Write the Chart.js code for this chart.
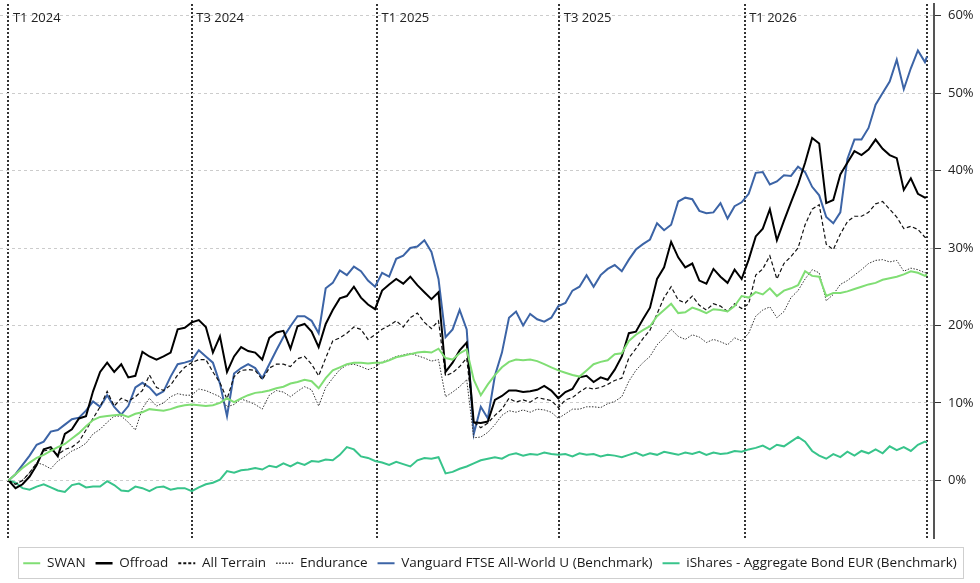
<!DOCTYPE html>
<html><head><meta charset="utf-8">
<script src="https://cdn.jsdelivr.net/npm/chart.js@4/dist/chart.umd.min.js"></script>
<style>html,body{margin:0;padding:0;background:#fff;}canvas{display:block;}</style>
</head><body>
<canvas id="c" width="980" height="583"></canvas>
<script>
// x positions: days since 1 Jan 2024
const days = [
0,7,14,21,28,35,42,49,56,63,
70,77,84,91,98,105,112,119,126,133,
140,147,154,161,168,175,182,189,196,203,
210,217,224,231,238,245,252,259,266,273,
280,287,294,301,308,315,322,329,336,343,
350,357,364,371,378,385,392,399,406,413,
420,427,434,441,448,455,462,469,476,483,
490,497,504,511,518,525,532,539,546,553,
560,567,574,581,588,595,602,609,616,623,
630,637,644,651,658,665,672,679,686,693,
700,707,714,721,728,735,742,749,756,763,
770,777,784,791,798,805,812,819,826,833,
840,847,854,861,868,875,882,889,896,903,
910,912];

const periodDays = [0,182,366,547,731,912];
const periodLabels = ['T1 2024','T3 2024','T1 2025','T3 2025','T1 2026',''];
const yTickValues = [0,10,20,30,40,50,60];

const seriesNames = ['SWAN','Offroad','All Terrain','Endurance','Vanguard FTSE All-World U (Benchmark)','iShares - Aggregate Bond EUR (Benchmark)'];

const swan = [
0,0.8,1.6,2.3,2.9,3.3,3.8,4.3,4.7,5.4,
6.1,7.0,7.8,8.2,8.3,8.4,8.5,8.2,8.6,8.8,
9.2,9.1,9.0,9.2,9.5,9.7,9.8,9.7,9.6,9.7,
10.0,10.6,10.1,10.6,11.0,11.3,11.4,11.6,11.9,12.1,
12.5,12.7,13.0,12.8,11.9,13.2,14.2,14.6,15.0,15.2,
15.2,15.1,15.2,15.2,15.5,15.9,16.1,16.3,16.5,16.6,
16.5,17.0,15.8,15.6,16.4,16.9,13.0,11.0,12.4,13.6,
14.6,15.3,15.6,15.5,15.6,15.4,15.0,14.6,14.2,13.9,
13.6,13.4,14.2,15.0,15.3,15.5,16.3,16.4,18.0,18.8,
19.4,19.9,21.2,22.0,22.8,21.6,21.7,22.3,22.0,21.6,
22.1,22.0,21.8,22.5,23.8,23.6,24.3,24.0,24.8,23.8,
24.5,24.8,25.2,27.0,26.4,26.3,23.8,24.2,24.2,24.4,
24.7,25.0,25.3,25.5,25.9,26.1,26.3,26.6,27.0,26.8,
26.4,26.6];

const offroad = [
0,-1.0,-0.5,0.5,2.0,4.0,4.3,3.1,6.0,6.6,
8.0,8.3,11.5,14.0,15.2,14.0,15.0,13.3,13.5,16.6,
16.0,15.6,16.0,16.5,19.5,19.7,20.4,20.7,19.8,16.5,
18.6,14.0,16.0,17.2,16.7,16.5,15.6,18.4,19.1,19.3,
17.0,19.9,20.2,19.2,17.2,20.2,22.0,23.5,23.8,25.0,
23.6,22.7,22.1,24.5,25.3,26.0,25.4,26.3,25.2,24.3,
23.4,24.3,14.0,15.2,16.8,17.8,7.5,7.4,7.6,10.4,
10.9,11.6,11.6,11.4,11.5,11.7,12.2,11.6,10.6,11.4,
11.8,13.3,13.5,12.7,13.3,13.0,14.3,16.0,19.0,19.2,
20.8,22.3,26.0,27.5,30.8,28.8,27.5,28.0,25.8,25.4,
27.3,26.3,25.5,27.2,26.0,28.5,31.5,32.5,35.0,31.0,
33.5,35.9,38.2,41.0,44.2,43.5,35.8,36.2,39.5,41.0,
42.5,42.0,42.7,44.0,42.8,42.0,41.6,37.5,39.0,37.0,
36.5,36.6];

const allTerrain = [
0,-0.5,0.0,1.0,2.2,3.8,4.0,3.3,4.0,4.3,
5.0,6.5,8.0,9.5,11.5,9.6,10.6,10.2,10.8,11.6,
13.6,12.0,11.6,12.3,13.6,14.6,15.2,15.6,15.6,14.0,
12.6,10.5,13.4,14.2,14.3,14.2,13.0,14.5,15.0,15.0,
14.7,15.7,16.0,15.0,13.5,15.8,18.0,18.4,19.0,19.8,
19.5,18.2,18.8,19.5,20.0,20.6,19.8,21.0,21.6,20.4,
19.6,20.6,13.5,13.9,14.7,15.8,7.5,6.8,7.4,8.4,
9.2,10.6,10.1,10.4,10.1,10.7,10.5,10.3,9.4,10.4,
10.7,11.4,12.0,11.8,12.0,12.4,12.9,13.2,15.8,17.0,
18.3,19.4,21.5,23.6,25.0,23.3,22.9,23.8,22.6,22.0,
22.8,22.5,21.8,22.8,22.2,22.8,26.5,27.3,29.0,26.0,
28.0,28.9,30.0,33.0,35.0,35.6,30.5,29.8,31.8,33.4,
34.1,34.1,34.6,35.7,36.0,35.0,34.0,32.5,32.8,32.4,
31.4,31.3];

const endurance = [
0,-0.5,0.0,1.0,2.3,2.0,1.5,2.5,3.1,3.8,
4.2,4.8,6.0,6.6,7.5,8.3,8.3,7.5,6.5,9.3,
10.6,9.6,10.0,10.8,11.2,11.0,11.0,11.8,11.6,11.2,
10.8,9.5,9.8,10.5,10.2,9.8,9.2,11.0,11.6,11.4,
10.8,11.5,12.1,11.7,9.6,12.0,13.2,14.3,14.9,15.0,
14.7,14.3,14.6,15.3,15.6,16.0,16.2,16.4,16.1,15.8,
15.4,15.6,10.8,11.4,12.1,13.0,5.5,5.6,6.2,7.2,
8.4,9.0,8.8,9.1,8.8,9.2,9.1,8.8,8.0,8.6,
9.2,9.2,9.5,9.5,9.4,9.9,10.2,10.8,12.8,14.2,
15.2,16.0,17.5,18.4,19.5,18.6,18.2,18.8,18.5,17.8,
18.2,17.9,17.5,18.4,18.0,19.0,21.2,22.0,22.4,21.0,
21.8,23.6,24.5,26.0,27.2,26.8,23.2,24.0,25.3,25.8,
26.5,27.2,28.0,28.4,28.5,28.2,28.4,27.0,27.4,27.2,
26.8,26.8];

const vanguard = [
0,0.8,2.0,3.2,4.6,5.0,6.3,6.5,7.2,7.9,
8.1,9.0,10.2,9.5,11.0,9.5,8.5,9.6,12.0,12.6,
12.0,11.0,11.5,13.4,15.0,15.2,15.5,16.8,16.0,15.2,
12.5,8.3,13.8,14.5,15.0,14.5,13.2,15.0,16.8,18.5,
19.9,21.2,21.2,20.6,19.0,24.8,25.5,27.1,26.5,27.6,
27.0,25.8,25.0,26.8,26.3,28.6,29.0,30.0,30.2,31.0,
29.5,26.0,18.5,19.5,22.0,19.5,6.0,9.5,8.0,13.5,
16.5,21.0,21.8,20.0,21.5,20.8,20.5,21.0,22.5,22.9,
24.5,25.0,26.5,25.0,26.5,27.3,27.8,27.0,28.5,29.8,
30.5,31.1,33.2,32.3,33.0,36.0,36.5,36.3,34.8,34.5,
34.6,35.8,33.8,35.4,35.9,37.0,39.7,39.8,38.2,38.6,
39.4,39.3,40.5,39.8,37.9,36.8,34.0,33.2,34.6,41.5,
44.0,44.0,45.5,48.5,50.0,51.5,54.3,50.5,53.2,55.5,
54.0,54.7];

const ishares = [
0,-0.3,-1.0,-1.2,-0.8,-0.5,-0.9,-1.3,-1.5,-0.6,
-0.4,-0.9,-0.8,-0.8,-0.1,-0.6,-1.3,-1.4,-0.8,-1.0,
-1.4,-0.9,-0.8,-1.2,-1.0,-1.0,-1.4,-0.9,-0.5,-0.3,
0.1,1.2,1.0,1.3,1.4,1.6,1.4,1.9,1.7,2.2,
1.8,2.3,2.0,2.5,2.4,2.7,2.6,3.3,4.3,4.0,
3.1,2.9,2.5,2.3,2.0,2.4,2.1,1.8,2.6,2.9,
2.8,3.0,0.9,1.1,1.5,1.8,2.2,2.6,2.8,3.0,
2.8,3.3,3.5,3.2,3.4,3.3,3.6,3.4,3.3,3.4,
3.1,3.5,3.3,3.4,3.1,3.3,3.2,3.0,3.3,3.6,
3.2,3.5,3.3,3.7,3.5,3.3,3.6,3.4,3.7,3.3,
3.6,3.4,3.5,3.8,3.7,4.0,4.2,4.5,4.0,4.6,
4.4,5.0,5.6,5.0,3.8,3.2,2.8,3.4,3.0,3.7,
3.2,3.8,3.5,4.0,3.5,4.4,3.9,4.3,3.8,4.6,
5.0,4.9];

const FONT = "'Open Sans', 'Noto Sans', sans-serif";
Chart.defaults.font.family = FONT;
Chart.defaults.font.size = 13;
Chart.defaults.color = '#222';

const pts = arr => arr.map((v, i) => ({x: days[i], y: v}));

const periodLabelPlugin = {
  id: 'periodLabels',
  afterDraw(chart) {
    const {ctx, chartArea, scales} = chart;
    ctx.save();
    ctx.font = "13px " + FONT;
    ctx.fillStyle = '#222';
    ctx.textBaseline = 'alphabetic';
    ctx.textAlign = 'left';
    periodDays.forEach((d, i) => {
      if (!periodLabels[i]) return;
      ctx.fillText(periodLabels[i], scales.x.getPixelForValue(d) + 4.5, chartArea.top + 18);
    });
    ctx.restore();
  }
};

const legendFramePlugin = {
  id: 'legendFrame',
  afterDraw(chart) {
    const hb = chart.legend && chart.legend.legendHitBoxes;
    if (!hb || !hb.length) return;
    let l = Infinity, r = -Infinity, t = Infinity, b = -Infinity;
    hb.forEach(h => { l = Math.min(l, h.left); r = Math.max(r, h.left + h.width); t = Math.min(t, h.top); b = Math.max(b, h.top + h.height); });
    const ctx = chart.ctx;
    ctx.save();
    ctx.strokeStyle = '#cfcfcf';
    ctx.lineWidth = 1;
    const x0 = Math.round(l - 5) + 0.5, x1 = Math.round(r + 6) + 0.5;
    const y0 = Math.round(t - 9.5) + 0.5, y1 = Math.round(b + 7.5) + 0.5;
    ctx.strokeRect(x0, y0, x1 - x0, y1 - y0);
    ctx.restore();
  }
};

const mk = (label, data, color, width, dash) => ({
  label, data: pts(data), borderColor: color, backgroundColor: color,
  borderWidth: width, borderDash: dash, pointRadius: 0, pointHoverRadius: 0,
  tension: 0, fill: false
});

const legendStyle = [
  {w: 2, dash: []},
  {w: 2.5, dash: []},
  {w: 2, dash: [3, 2]},
  {w: 1.6, dash: [1.5, 1.6]},
  {w: 2, dash: []},
  {w: 2, dash: []}
];

new Chart(document.getElementById('c'), {
  type: 'line',
  data: {
    datasets: [
      mk(seriesNames[0], swan, '#80de74', 2, []),
      mk(seriesNames[1], offroad, '#000000', 2, []),
      mk(seriesNames[2], allTerrain, '#111111', 1.2, [4, 2.5]),
      mk(seriesNames[3], endurance, '#333333', 1, [1.5, 1.5]),
      mk(seriesNames[4], vanguard, '#3c64a6', 2, []),
      mk(seriesNames[5], ishares, '#38c48b', 2, [])
    ]
  },
  options: {
    responsive: false,
    animation: false,
    layout: {padding: {left: 0, right: 0, top: 4, bottom: 3}},
    plugins: {
      tooltip: {enabled: false},
      legend: {
        position: 'bottom',
        labels: {
          usePointStyle: true, pointStyle: 'line', pointStyleWidth: 17,
          boxWidth: 17, padding: 10, color: '#1a1a1a',
          font: {size: 13.5, family: FONT},
          generateLabels: chart => Chart.defaults.plugins.legend.labels.generateLabels(chart).map((it, i) => {
            it.lineWidth = legendStyle[i].w;
            it.lineDash = legendStyle[i].dash;
            return it;
          })
        }
      }
    },
    scales: {
      x: {
        type: 'linear', min: -8.4, max: 919,
        afterBuildTicks: s => { s.ticks = periodDays.map(v => ({value: v})); },
        ticks: {display: false},
        grid: {color: '#333', lineWidth: 2, drawTicks: true, tickLength: 8, tickColor: 'rgba(0,0,0,0)'},
        border: {display: false, dash: [2, 2]}
      },
      y: {
        position: 'right', min: -7.5, max: 61.5,
        afterBuildTicks: s => { s.ticks = yTickValues.map(v => ({value: v})); },
        afterFit: s => { s.width = 46; s.paddingTop = 0; s.paddingBottom = 0; },
        ticks: {padding: 7, color: '#222', font: {size: 13, family: FONT}, callback: v => v + '%'},
        grid: {color: '#cccccc', lineWidth: 1, tickLength: 7, tickColor: '#333', tickWidth: 1, tickBorderDash: []},
        border: {display: true, color: '#555', width: 2, dash: [3, 3]}
      }
    }
  },
  plugins: [periodLabelPlugin, legendFramePlugin]
});
</script>
</body></html>
